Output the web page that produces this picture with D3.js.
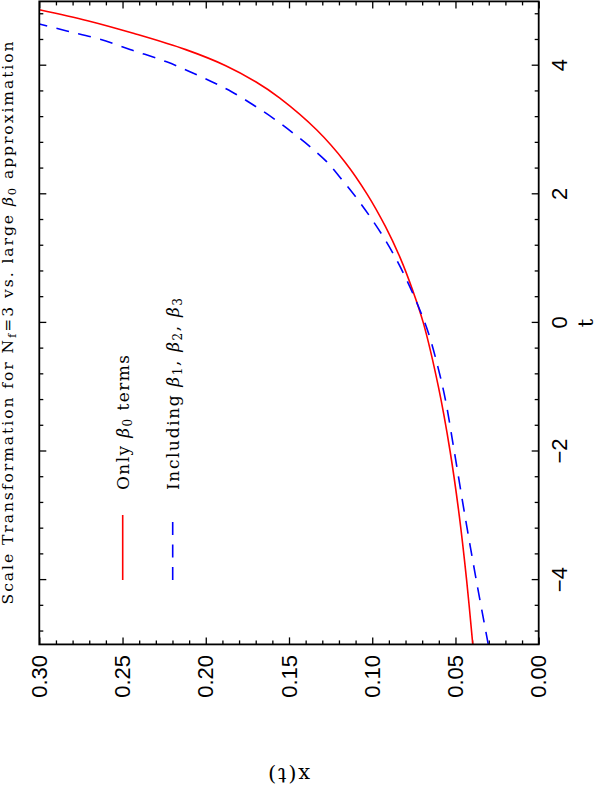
<!DOCTYPE html>
<html>
<head>
<meta charset="utf-8">
<script src="https://cdn.jsdelivr.net/npm/d3@7"></script>
<style>
  body { margin: 0; background: #fff; }
  svg { display: block; }
</style>
</head>
<body>
<div id="chart"></div>
<script>
"use strict";

// values
// red: only beta0 terms
var tOnly = [-5, -4, -3, -2, -1, 0, 0.5, 1, 1.5, 2, 2.5, 3, 3.5, 3.75, 4, 4.25, 4.5, 4.7, 4.87];
var xOnly = [0.0396, 0.0433, 0.0477, 0.0532, 0.0602, 0.0693, 0.0756, 0.0830, 0.0921, 0.1030, 0.1163, 0.1333, 0.1557, 0.1700, 0.1880, 0.2120, 0.2430, 0.2710, 0.3000];
// blue: including beta1, beta2, beta3
var tFull = [-5, -4, -3, -2, -1.2, -0.68, -0.16, 0.252, 0.667, 0.978, 1.341, 1.652, 1.911, 2.222, 2.508, 2.741, 2.949, 3.182, 3.389, 3.596, 3.751, 3.907, 4.06, 4.24, 4.415, 4.54, 4.65];
var xFull = [0.0303, 0.0375, 0.0443, 0.0507, 0.0560, 0.0606, 0.0662, 0.0722, 0.0793, 0.0853, 0.0934, 0.1013, 0.1085, 0.1180, 0.1274, 0.1374, 0.1474, 0.1594, 0.1714, 0.1845, 0.1964, 0.2095, 0.2235, 0.2440, 0.2640, 0.2835, 0.3000];

var tTicks = [-4, -2, 0, 2, 4];
var xTicks = [0, 0.05, 0.10, 0.15, 0.20, 0.25, 0.30];
var tMinor = d3.range(-12, 13).filter(function (k) { return k % 5 !== 0; }).map(function (k) { return k * 0.4; });
var xMinor = d3.range(1, 30).filter(function (k) { return k % 5 !== 0; }).map(function (k) { return k * 0.01; });

var W = 599, H = 787;

var svg = d3.select("#chart")
            .append("svg")
            .attr("width", W)
            .attr("height", H);

// the chart is drawn landscape (787 wide, 599 tall) and turned a quarter left
var g = svg.append("g")
           .attr("transform", "translate(0," + H + ") rotate(-90)");

var tscale = d3.scaleLinear()
               .domain([-5, 5])
               .range([142.6, 785.6]);

var xscale = d3.scaleLinear()
               .domain([0, 0.30])
               .range([538.7, 39.3]);

var plotL = tscale.range()[0], plotR = tscale.range()[1],
    plotT = xscale.range()[1], plotB = xscale.range()[0];

g.append("defs").append("clipPath")
 .attr("id", "plotclip")
 .append("rect")
 .attr("x", plotL)
 .attr("y", plotT)
 .attr("width", plotR - plotL)
 .attr("height", plotB - plotT);

// axes, ticks pointing in on all four sides
function styleAxis(sel) {
  sel.select(".domain").remove();
  sel.selectAll("line").attr("stroke", "#000").attr("stroke-width", 1.3);
  sel.selectAll("text")
     .attr("fill", "#000")
     .style("font-family", "'Liberation Sans', Arial, sans-serif")
     .style("font-size", "22px");
}

g.append("g")
 .attr("transform", "translate(0," + plotB + ")")
 .call(d3.axisBottom(tscale).tickValues(tTicks).tickSizeInner(-7).tickSizeOuter(0).tickPadding(13))
 .call(styleAxis);
g.append("g")
 .attr("transform", "translate(0," + plotB + ")")
 .call(d3.axisBottom(tscale).tickValues(tMinor).tickFormat("").tickSizeInner(-4).tickSizeOuter(0))
 .call(styleAxis);
g.append("g")
 .attr("transform", "translate(0," + plotT + ")")
 .call(d3.axisTop(tscale).tickValues(tTicks).tickFormat("").tickSizeInner(-7).tickSizeOuter(0))
 .call(styleAxis);
g.append("g")
 .attr("transform", "translate(0," + plotT + ")")
 .call(d3.axisTop(tscale).tickValues(tMinor).tickFormat("").tickSizeInner(-4).tickSizeOuter(0))
 .call(styleAxis);

g.append("g")
 .attr("transform", "translate(" + plotL + ",0)")
 .call(d3.axisLeft(xscale).tickValues(xTicks).tickFormat(d3.format(".2f")).tickSizeInner(-7).tickSizeOuter(0).tickPadding(10.5))
 .call(styleAxis);
g.append("g")
 .attr("transform", "translate(" + plotL + ",0)")
 .call(d3.axisLeft(xscale).tickValues(xMinor).tickFormat("").tickSizeInner(-4).tickSizeOuter(0))
 .call(styleAxis);
g.append("g")
 .attr("transform", "translate(" + plotR + ",0)")
 .call(d3.axisRight(xscale).tickValues(xTicks).tickFormat("").tickSizeInner(-7).tickSizeOuter(0))
 .call(styleAxis);
g.append("g")
 .attr("transform", "translate(" + plotR + ",0)")
 .call(d3.axisRight(xscale).tickValues(xMinor).tickFormat("").tickSizeInner(-4).tickSizeOuter(0))
 .call(styleAxis);

// curves
var line = d3.line()
             .x(function (d) { return tscale(d[0]); })
             .y(function (d) { return xscale(d[1]); })
             .curve(d3.curveCatmullRom.alpha(0.5));

var curves = g.append("g").attr("clip-path", "url(#plotclip)");

curves.append("path")
      .datum(d3.zip(tOnly, xOnly))
      .attr("fill", "none")
      .attr("stroke", "#ff0000")
      .attr("stroke-width", 1.6)
      .attr("d", line);

curves.append("path")
      .datum(d3.zip(tFull, xFull))
      .attr("fill", "none")
      .attr("stroke", "#0000ff")
      .attr("stroke-width", 1.6)
      .attr("stroke-dasharray", "13,9.5")
      .attr("d", line);

// frame
g.append("rect")
 .attr("x", plotL)
 .attr("y", plotT)
 .attr("width", plotR - plotL)
 .attr("height", plotB - plotT)
 .attr("fill", "none")
 .attr("stroke", "#000")
 .attr("stroke-width", 1.8);

var serif = "'DejaVu Serif', 'Liberation Serif', serif";

// title
var title = g.append("text")
             .attr("x", (plotL + plotR) / 2)
             .attr("y", 13)
             .attr("text-anchor", "middle")
             .attr("textLength", 563)
             .style("font-family", serif)
             .style("font-size", "15.5px");
title.append("tspan").text("Scale Transformation for N");
title.append("tspan").attr("dy", 3).style("font-size", "11.5px").text("f");
title.append("tspan").attr("dy", -3).text("=3 vs. large ");
title.append("tspan").style("font-style", "italic").text("\u03B2");
title.append("tspan").attr("dy", 3).style("font-size", "11.5px").text("0");
title.append("tspan").attr("dy", -3).text(" approximation");

// axis titles
g.append("text")
 .attr("x", (plotL + plotR) / 2)
 .attr("y", 593)
 .attr("text-anchor", "middle")
 .style("font-family", serif)
 .style("font-size", "21px")
 .text("t");

g.append("text")
 .attr("transform", "translate(19.5," + ((plotT + plotB) / 2) + ") rotate(-90)")
 .attr("text-anchor", "middle")
 .attr("textLength", 42)
 .style("font-family", serif)
 .style("font-size", "21px")
 .text("x(t)");

// legend
var legend = [
  { label: ["Only ", "\u03B2", "0", " terms"], color: "#ff0000", dash: null, y: 122.7, len: 135 },
  { label: ["Including ", "\u03B2", "1", ", ", "\u03B2", "2", ", ", "\u03B2", "3"], color: "#0000ff", dash: "13,9.5", y: 172.7, len: 192 }
];

legend.forEach(function (d) {
  g.append("line")
   .attr("x1", 207)
   .attr("x2", 272)
   .attr("y1", d.y)
   .attr("y2", d.y)
   .attr("stroke", d.color)
   .attr("stroke-width", 1.6)
   .attr("stroke-dasharray", d.dash);

  var t = g.append("text")
           .attr("x", 297)
           .attr("y", d.y + 6)
           .attr("textLength", d.len)
           .style("font-family", serif)
           .style("font-size", "17px");
  var shifted = false;
  d.label.forEach(function (s) {
    var sp = t.append("tspan").text(s);
    if (s === "\u03B2") sp.style("font-style", "italic");
    if (/^[0-3]$/.test(s)) {
      sp.attr("dy", 3.5).style("font-size", "12px");
      shifted = true;
    } else if (shifted) {
      sp.attr("dy", -3.5);
      shifted = false;
    }
  });
});
</script>
</body>
</html>
